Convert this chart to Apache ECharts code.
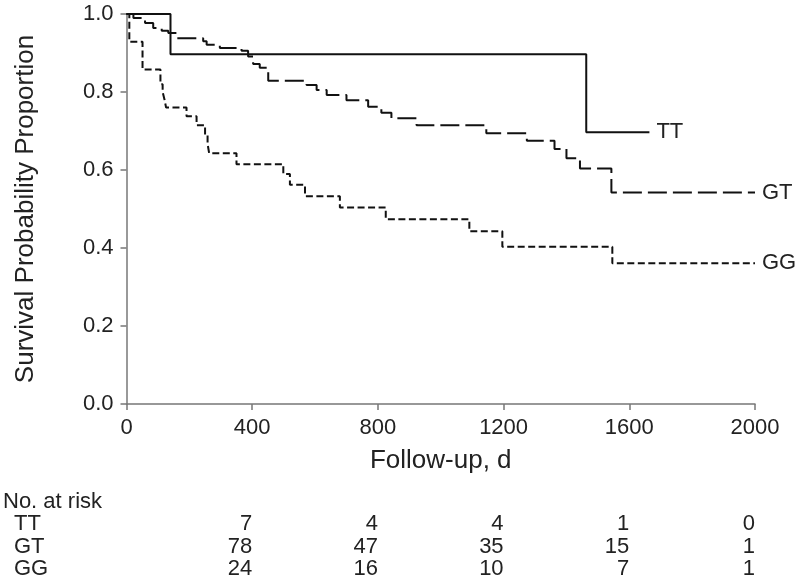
<!DOCTYPE html>
<html>
<head>
<meta charset="utf-8">
<script src="https://cdn.jsdelivr.net/npm/echarts@6/dist/echarts.min.js"></script>
<style>
html,body{margin:0;padding:0;background:#fff;}
#chart{width:800px;height:584px;}
</style>
</head>
<body>
<div id="chart"></div>
<script>
// ---- data ----
const ttTimes = [0, 140, 1463, 1664];
const ttSurv  = [1.0, 0.897, 0.697, 0.697];

const gtTimes = [0, 22, 59, 85, 112, 133, 160, 244, 255, 297, 366, 387, 403, 424, 451, 573, 605, 637, 700, 769, 811, 843, 923, 1145, 1274, 1362, 1400, 1443, 1543, 2000];
const gtSurv  = [1.0, 0.990, 0.977, 0.964, 0.957, 0.951, 0.938, 0.930, 0.921, 0.913, 0.906, 0.891, 0.872, 0.862, 0.829, 0.818, 0.805, 0.792, 0.779, 0.762, 0.747, 0.733, 0.715, 0.694, 0.675, 0.654, 0.630, 0.604, 0.542, 0.542];

const ggTimes = [0, 9, 51, 108, 115, 121, 126, 191, 223, 250, 258, 263, 350, 499, 520, 568, 679, 825, 1091, 1196, 1546, 2000];
const ggSurv  = [1.0, 0.929, 0.858, 0.820, 0.800, 0.780, 0.760, 0.738, 0.715, 0.690, 0.667, 0.643, 0.615, 0.590, 0.562, 0.533, 0.504, 0.474, 0.443, 0.403, 0.361, 0.361];

const groupNames = ['TT', 'GT', 'GG'];
const riskTimes = [400, 800, 1200, 1600, 2000];
const riskTT = [7, 4, 4, 1, 0];
const riskGT = [78, 47, 35, 15, 1];
const riskGG = [24, 16, 10, 7, 1];
const xTicks = [0, 400, 800, 1200, 1600, 2000];
const yTicks = [0, 0.2, 0.4, 0.6, 0.8, 1.0];

// ---- chart ----
const FONT = '"Liberation Sans", Arial, sans-serif';
const TXT = '#222';
const chart = echarts.init(document.getElementById('chart'), null, {renderer: 'canvas'});

function pairs(t, s) { return t.map((v, i) => [v, s[i]]); }

const dashStyles = ['solid', [19, 6], [7, 3.5]];
const seriesData = [pairs(ttTimes, ttSurv), pairs(gtTimes, gtSurv), pairs(ggTimes, ggSurv)];

const option = {
  animation: false,
  backgroundColor: '#fff',
  grid: {left: 126.5, right: 45, top: 14, bottom: 180, containLabel: false},
  xAxis: {
    type: 'value', min: xTicks[0], max: xTicks[xTicks.length - 1], interval: 400,
    name: 'Follow-up, d', nameLocation: 'middle', nameGap: 44,
    nameTextStyle: {fontFamily: FONT, fontSize: 26, color: TXT},
    axisLine: {show: true, onZero: false, lineStyle: {color: '#777', width: 1.5}},
    axisTick: {show: true, length: 6, lineStyle: {color: '#777', width: 1.5}},
    axisLabel: {fontFamily: FONT, fontSize: 22, color: TXT, margin: 13,
      formatter: v => String(v)},
    splitLine: {show: false}
  },
  yAxis: {
    type: 'value', min: yTicks[0], max: yTicks[yTicks.length - 1], interval: 0.2,
    name: 'Survival Probability Proportion', nameLocation: 'middle', nameGap: 88,
    nameTextStyle: {fontFamily: FONT, fontSize: 26, color: TXT},
    axisLine: {show: true, onZero: false, lineStyle: {color: '#777', width: 1.5}},
    axisTick: {show: true, length: 6, lineStyle: {color: '#777', width: 1.5}},
    axisLabel: {fontFamily: FONT, fontSize: 22, color: TXT, margin: 13,
      formatter: v => v.toFixed(1)},
    splitLine: {show: false}
  },
  series: groupNames.map((g, i) => ({
    name: g, type: 'line', step: 'end', data: seriesData[i],
    showSymbol: false, symbol: 'none',
    lineStyle: {color: '#111', width: 2, type: dashStyles[i]},
    endLabel: {show: true, formatter: g, distance: 7, fontFamily: FONT, fontSize: 22, color: TXT}
  }))
};
chart.setOption(option);

// ---- number at risk table ----
const rows = [riskTT, riskGT, riskGG];
const rowY = [524, 546.5, 568.5];
const els = [];
els.push({type: 'text', x: 3, y: 502, style: {text: 'No. at risk', font: '22px ' + FONT, fill: TXT, textVerticalAlign: 'middle'}});
groupNames.forEach((g, r) => {
  els.push({type: 'text', x: 14, y: rowY[r], style: {text: g, font: '22px ' + FONT, fill: TXT, textVerticalAlign: 'middle'}});
  riskTimes.forEach((t, c) => {
    const px = chart.convertToPixel({xAxisIndex: 0}, t);
    els.push({type: 'text', x: px, y: rowY[r],
      style: {text: String(rows[r][c]), font: '22px ' + FONT, fill: TXT, textAlign: 'right', textVerticalAlign: 'middle'}});
  });
});
chart.setOption({graphic: {elements: els}});
</script>
</body>
</html>
